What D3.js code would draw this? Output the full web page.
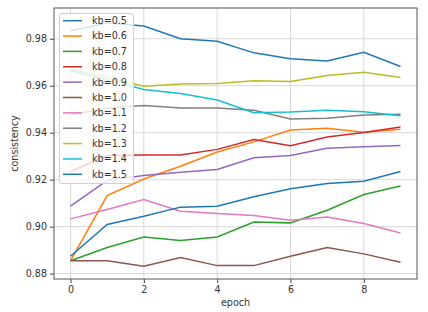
<!DOCTYPE html>
<html>
<head>
<meta charset="utf-8">
<script src="https://cdn.jsdelivr.net/npm/d3@7"></script>
<style>
  body { margin: 0; background: #fff; }
  svg text { font-family: 'DejaVu Sans', sans-serif; fill: #333; }
</style>
</head>
<body>
<div id="chart"></div>
<script>
// ── DATA ──────────────────────────────────────────────────────────
const epochs = [0, 1, 2, 3, 4, 5, 6, 7, 8, 9];
const kbLabels = ['kb=0.5','kb=0.6','kb=0.7','kb=0.8','kb=0.9','kb=1.0','kb=1.1','kb=1.2','kb=1.3','kb=1.4','kb=1.5'];
const kb05 = [0.9834, 0.9867, 0.9854, 0.9800, 0.9789, 0.9740, 0.9715, 0.9705, 0.9742, 0.9682];
const kb06 = [0.8855, 0.9132, 0.9203, 0.9257, 0.9318, 0.9361, 0.9411, 0.9419, 0.9402, 0.9415];
const kb07 = [0.8855, 0.8911, 0.8956, 0.8941, 0.8956, 0.9020, 0.9016, 0.9070, 0.9137, 0.9173];
const kb08 = [0.9235, 0.9303, 0.9305, 0.9305, 0.9329, 0.9371, 0.9344, 0.9382, 0.9401, 0.9424];
const kb09 = [0.9087, 0.9197, 0.9218, 0.9232, 0.9243, 0.9293, 0.9303, 0.9334, 0.9340, 0.9346];
const kb10 = [0.8855, 0.8855, 0.8831, 0.8868, 0.8834, 0.8834, 0.8874, 0.8911, 0.8884, 0.8848];
const kb11 = [0.9033, 0.9073, 0.9115, 0.9066, 0.9056, 0.9047, 0.9027, 0.9041, 0.9013, 0.8973];
const kb12 = [0.9476, 0.9505, 0.9516, 0.9505, 0.9505, 0.9496, 0.9458, 0.9462, 0.9475, 0.9479];
const kb13 = [0.9670, 0.9635, 0.9598, 0.9607, 0.9610, 0.9621, 0.9618, 0.9644, 0.9657, 0.9635];
const kb14 = [0.9664, 0.9625, 0.9584, 0.9567, 0.9539, 0.9485, 0.9488, 0.9496, 0.9489, 0.9472];
const kb15 = [0.8874, 0.9009, 0.9044, 0.9083, 0.9087, 0.9127, 0.9161, 0.9184, 0.9193, 0.9235];
const allSeries = [kb05, kb06, kb07, kb08, kb09, kb10, kb11, kb12, kb13, kb14, kb15];
const xTicks = [0, 2, 4, 6, 8];
const yTicks = [0.88, 0.90, 0.92, 0.94, 0.96, 0.98];

const tab10 = ['#1f77b4','#ff7f0e','#2ca02c','#d62728','#9467bd','#8c564b','#e377c2','#7f7f7f','#bcbd22','#17becf'];

// ── LAYOUT ────────────────────────────────────────────────────────
const W = 428, H = 312;
const m = { left: 54, right: 11, top: 8, bottom: 33 };

const svg = d3.select('#chart').append('svg')
  .attr('width', W).attr('height', H);

const x = d3.scaleLinear().domain([-0.45, 9.45]).range([m.left, W - m.right]);
const y = d3.scaleLinear().domain([0.8777, 0.9931]).range([H - m.bottom, m.top]);

// grid
svg.append('g').selectAll('line').data(xTicks).enter().append('line')
  .attr('x1', d => x(d)).attr('x2', d => x(d))
  .attr('y1', m.top).attr('y2', H - m.bottom)
  .attr('stroke', '#d9d9d9').attr('stroke-width', 1);
svg.append('g').selectAll('line').data(yTicks).enter().append('line')
  .attr('x1', m.left).attr('x2', W - m.right)
  .attr('y1', d => y(d)).attr('y2', d => y(d))
  .attr('stroke', '#d9d9d9').attr('stroke-width', 1);

// axes
const xAxis = svg.append('g')
  .attr('transform', `translate(0,${H - m.bottom})`)
  .call(d3.axisBottom(x).tickValues(xTicks).tickSize(4).tickPadding(3).tickFormat(d3.format('d')));
const yAxis = svg.append('g')
  .attr('transform', `translate(${m.left},0)`)
  .call(d3.axisLeft(y).tickValues(yTicks).tickSize(4).tickPadding(3).tickFormat(d3.format('.2f')));
[xAxis, yAxis].forEach(a => {
  a.select('.domain').remove();
  a.selectAll('line').attr('stroke', '#444');
  a.selectAll('text').style('font-size', '9.6px').attr('fill', '#333');
});

// lines
const line = d3.line().x((d, i) => x(epochs[i])).y(d => y(d));
svg.append('g').selectAll('path').data(allSeries).enter().append('path')
  .attr('d', line)
  .attr('fill', 'none')
  .attr('stroke', (d, i) => tab10[i % 10])
  .attr('stroke-width', 1.5);

// frame
svg.append('rect')
  .attr('x', m.left).attr('y', m.top)
  .attr('width', W - m.left - m.right).attr('height', H - m.top - m.bottom)
  .attr('fill', 'none').attr('stroke', '#555').attr('stroke-width', 1);

// labels
svg.append('text')
  .attr('x', (m.left + W - m.right) / 2).attr('y', 306)
  .attr('text-anchor', 'middle').style('font-size', '9.6px')
  .text('epoch');
svg.append('text')
  .attr('transform', `translate(18,${(m.top + H - m.bottom) / 2}) rotate(-90)`)
  .attr('text-anchor', 'middle').style('font-size', '9.6px')
  .text('consistency');

// legend
const lg = svg.append('g');
lg.append('rect')
  .attr('x', 59.5).attr('y', 13.5).attr('width', 74).attr('height', 170)
  .attr('rx', 2.5)
  .attr('fill', 'rgba(255,255,255,0.8)').attr('stroke', '#d0d0d0').attr('stroke-width', 1);
kbLabels.forEach((lab, i) => {
  const yy = 20.7 + i * 15.36;
  lg.append('line')
    .attr('x1', 63).attr('x2', 82).attr('y1', yy).attr('y2', yy)
    .attr('stroke', tab10[i % 10]).attr('stroke-width', 1.5);
  lg.append('text')
    .attr('x', 92).attr('y', yy).attr('dy', '0.35em')
    .style('font-size', '9.6px')
    .text(lab);
});
</script>
</body>
</html>
